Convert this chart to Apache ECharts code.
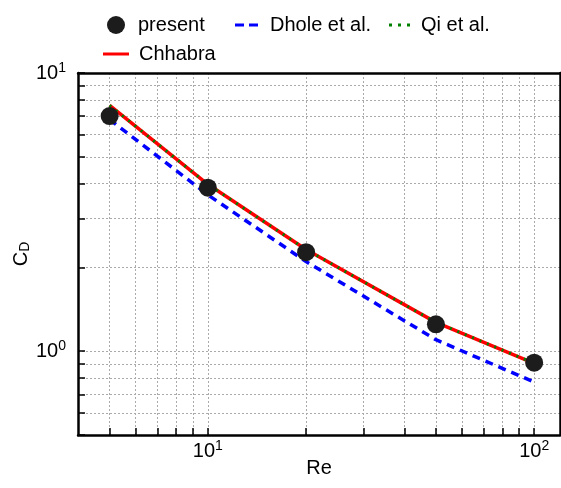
<!DOCTYPE html>
<html lang="en">
<head>
    <meta http-equiv="content-type" content="text/html;charset=utf-8">
    <title>CD vs Re</title>
    <script src="https://cdn.jsdelivr.net/npm/echarts@6/dist/echarts.min.js"></script>
    <style>
        html, body { margin: 0; padding: 0; background: #fff; overflow: hidden; }
        #main { width: 561px; height: 488px; }
    </style>
</head>
<body>
    <div id="main"></div>
    <script>
        // data
        var Re = [5, 10, 20, 50, 100];
        var present = [7.0, 3.87, 2.27, 1.25, 0.91];
        var dhole = [6.8, 3.65, 2.10, 1.10, 0.775];
        var qi = [7.65, 3.98, 2.32, 1.27, 0.905];
        var chhabra = [7.65, 3.98, 2.32, 1.27, 0.905];

        // tick positions
        var xTicks = [5, 6, 7, 8, 9, 10, 20, 30, 40, 50, 60, 70, 80, 90, 100];
        var xLabels = [10, 100];
        var yTicks = [0.5, 0.6, 0.7, 0.8, 0.9, 1, 2, 3, 4, 5, 6, 7, 8, 9, 10];
        var yLabels = [1, 10];

        function pairs(xs, ys) {
            return xs.map(function (x, i) { return [x, ys[i]]; });
        }
        function powLabel(v) {
            var e = Math.round(Math.log(v) / Math.LN10);
            return '{b|10}{s|' + e + '}';
        }
        var FONT = 'Liberation Sans';
        var tickRich = {
            b: { fontSize: 20, color: '#000', fontFamily: FONT },
            s: { fontSize: 14, color: '#000', fontFamily: FONT, verticalAlign: 'top', padding: [0, 0, 10, 0] }
        };

        // one legend per entry so each can have its own key shape
        function legendAt(name, icon, w, h, left, top, gap) {
            return {
                data: [{ name: name, icon: icon }],
                left: left, top: top, padding: 0,
                itemWidth: w, itemHeight: h, itemGap: 0,
                textStyle: { fontSize: 20, color: '#000', fontFamily: FONT, padding: [0, 0, 0, gap] }
            };
        }

        var myChart = echarts.init(document.getElementById('main'));
        var option = {
            animation: false,
            backgroundColor: '#fff',
            textStyle: { fontFamily: FONT },
            legend: [
                legendAt('present', 'circle', 18, 18, 107, 15, 8),
                legendAt('Dhole et al.', 'path://M0,0h9v3h-9z M14,0h9v3h-9z', 23, 3, 235, 15, 7),
                legendAt('Qi et al.', 'path://M0,0h3v3h-3z M9,0h3v3h-3z M18,0h3v3h-3z', 21, 3, 389, 15, 6),
                legendAt('Chhabra', 'rect', 26, 3, 103, 44, 5)
            ],
            grid: { left: 78, width: 482, top: 73, height: 362, outerBoundsMode: 'none', containLabel: false },
            xAxis: [
                {
                    type: 'log', logBase: 10, min: 4, max: 120,
                    name: 'Re', nameLocation: 'middle', nameGap: 23, nameMoveOverlap: false,
                    nameTextStyle: { fontSize: 20, color: '#000', fontFamily: FONT },
                    axisLine: { onZero: false, lineStyle: { color: '#000', width: 2.5 } },
                    axisTick: { inside: true, length: 7, customValues: xTicks, lineStyle: { color: '#000', width: 1.5 } },
                    axisLabel: { customValues: xLabels, formatter: powLabel, rich: tickRich, margin: 4 },
                    splitLine: { show: true, lineStyle: { color: '#aaa', type: [2, 2], width: 1 } },
                    minorTick: { show: false }
                },
                {
                    type: 'log', position: 'top', min: 4, max: 120,
                    axisLine: { lineStyle: { color: '#000', width: 2.5 } },
                    axisTick: { show: false }, axisLabel: { show: false }, splitLine: { show: false }
                }
            ],
            yAxis: [
                {
                    type: 'log', logBase: 10, min: 0.5, max: 10,
                    name: '{c|C}{d|D}', nameLocation: 'middle', nameGap: 46, nameRotate: 90, nameMoveOverlap: false,
                    nameTextStyle: {
                        rich: {
                            c: { fontSize: 20, color: '#000', fontFamily: FONT },
                            d: { fontSize: 14, color: '#000', fontFamily: FONT, verticalAlign: 'bottom', padding: [8, 0, 0, 0] }
                        }
                    },
                    axisLine: { onZero: false, lineStyle: { color: '#000', width: 2.5 } },
                    axisTick: { inside: true, length: 7, customValues: yTicks, lineStyle: { color: '#000', width: 1.5 } },
                    axisLabel: { customValues: yLabels, formatter: powLabel, rich: tickRich, margin: 12 },
                    splitLine: { show: true, lineStyle: { color: '#aaa', type: [2, 2], width: 1 } }
                },
                {
                    type: 'log', position: 'right', min: 0.5, max: 10,
                    axisLine: { lineStyle: { color: '#000', width: 2.5 } },
                    axisTick: { show: false }, axisLabel: { show: false }, splitLine: { show: false }
                }
            ],
            series: [
                {
                    name: 'Chhabra', type: 'line', data: pairs(Re, chhabra),
                    symbol: 'none', z: 2,
                    lineStyle: { color: '#ff0000', width: 3.5 }, itemStyle: { color: '#ff0000' }
                },
                {
                    name: 'Qi et al.', type: 'line', data: pairs(Re, qi),
                    symbol: 'none', z: 3,
                    lineStyle: { color: '#008000', width: 3, type: [2, 6] }, itemStyle: { color: '#008000' }
                },
                {
                    name: 'Dhole et al.', type: 'line', data: pairs(Re, dhole),
                    symbol: 'none', z: 3,
                    lineStyle: { color: '#0000ff', width: 3.5, type: [8, 6] }, itemStyle: { color: '#0000ff' }
                },
                {
                    name: 'present', type: 'scatter', data: pairs(Re, present),
                    symbol: 'circle', symbolSize: 18, z: 5,
                    itemStyle: { color: '#1c1c1c', opacity: 1 }
                }
            ]
        };
        myChart.setOption(option);
    </script>
</body>
</html>
